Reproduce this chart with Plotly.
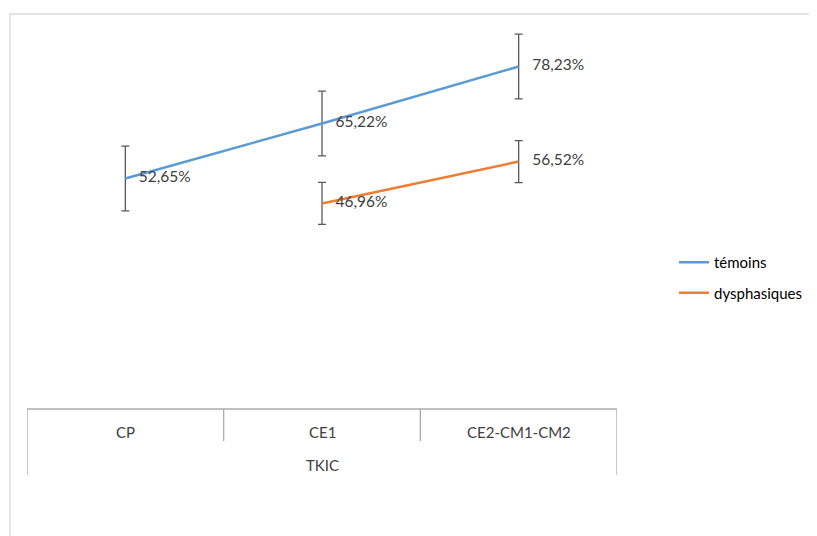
import plotly.graph_objects as go

categories = ["CP", "CE1", "CE2-CM1-CM2"]
group_label = "TKIC"
temoins = [52.65, 65.22, 78.23]
temoins_err = [7.4, 7.4, 7.4]
dysph = [None, 46.96, 56.52]
dysph_err = [0, 4.8, 4.8]

W, H = 817, 536
OFF = 8  # page body margin
FONT = "Lato"

def fmt(v):
    return "" if v is None else f"{v:.2f}".replace(".", ",") + "%"

xs = list(range(len(categories)))

def px(x):
    return (x - OFF) / W

def py(y):
    return 1 - (y - OFF) / H

fig = go.Figure()
for name, vals, errs, col, grp in [
    ("témoins", temoins, temoins_err, "#5B9BD5", "a"),
    ("dysphasiques", dysph, dysph_err, "#ED7D31", "b"),
]:
    fig.add_trace(go.Scatter(
        x=xs, y=vals, name=name, mode="lines+markers+text",
        text=[fmt(v) for v in vals], textposition="middle right",
        textfont=dict(family=FONT, size=15.5, color="#404040"),
        line=dict(color=col, width=2.5),
        marker=dict(size=20, color="rgba(0,0,0,0)", line=dict(width=0)),
        error_y=dict(type="data", array=errs, color="#595959", thickness=1.3, width=4),
        legendgroup=grp, cliponaxis=False,
    ))

y_bot, y_top = py(409), py(14)

line_col = "#ABABAB"
shapes = [
    dict(type="rect", xref="paper", yref="paper", x0=px(10), x1=1.2, y0=-0.2, y1=py(14),
         line=dict(color="#D9D9D9", width=1.3)),
    dict(type="line", xref="x", yref="paper", x0=-0.5, x1=2.5, y0=y_bot, y1=y_bot,
         line=dict(color=line_col, width=1.3)),
    dict(type="line", xref="x", yref="paper", x0=-0.5, x1=-0.5, y0=y_bot, y1=py(475),
         line=dict(color=line_col, width=1.3)),
    dict(type="line", xref="x", yref="paper", x0=2.5, x1=2.5, y0=y_bot, y1=py(475),
         line=dict(color=line_col, width=1.3)),
]
for b in [0.5, 1.5]:
    shapes.append(dict(type="line", xref="x", yref="paper", x0=b, x1=b, y0=y_bot, y1=py(441),
                       line=dict(color=line_col, width=1.3)))

annotations = [
    dict(x=i, y=py(432), xref="x", yref="paper", text=c, showarrow=False,
         font=dict(family=FONT, size=15, color="#404040"), xanchor="center", yanchor="middle")
    for i, c in enumerate(categories)
]
annotations.append(dict(x=1, y=py(465), xref="x", yref="paper", text=group_label, showarrow=False,
                        font=dict(family=FONT, size=15, color="#404040"), xanchor="center", yanchor="middle"))

fig.update_layout(
    width=W, height=H,
    margin=dict(l=0, r=0, t=0, b=0),
    paper_bgcolor="white", plot_bgcolor="white",
    font=dict(family=FONT, size=15, color="#404040"),
    xaxis=dict(domain=[px(27), px(617)], range=[-0.5, 2.5], showgrid=False, zeroline=False,
               showticklabels=False, showline=False, fixedrange=True),
    yaxis=dict(domain=[y_bot, y_top], range=[0, 395 / 4.378], showgrid=False, zeroline=False,
               showticklabels=False, showline=False, fixedrange=True),
    showlegend=True,
    legend=dict(x=px(674), y=py(246), xanchor="left", yanchor="top",
                traceorder="grouped", tracegroupgap=8,
                font=dict(family=FONT, size=15, color="#000000"), bgcolor="rgba(0,0,0,0)"),
    shapes=shapes, annotations=annotations,
)

fig.write_html("out.html")
